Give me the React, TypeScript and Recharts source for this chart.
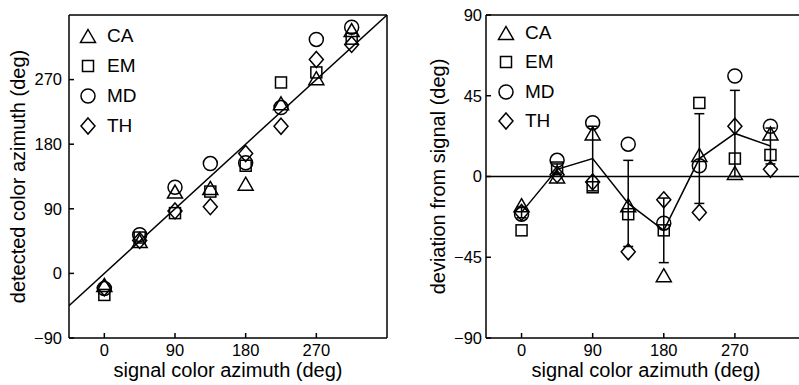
import React from 'react';
import { ComposedChart, Scatter, Line, XAxis, YAxis, ErrorBar, Legend } from 'recharts';

// signal azimuths (deg)
const SIGNAL = [0, 45, 90, 135, 180, 225, 270, 315];

// detected color azimuth per observer (left panel)
const DET_CA = [-16, 45, 114, 119, 125, 237, 272, 339];
const DET_EM = [-30, 50, 84, 114, 150, 266, 280, 327];
const DET_MD = [-21, 54, 120, 153, 154, 231, 326, 343];
const DET_TH = [-20, 46, 87, 93, 167, 205, 298, 319];

// deviation from signal per observer (right panel)
const DEV_CA = [-16, 0, 24, -16, -55, 12, 2, 24];
const DEV_EM = [-30, 5, -6, -21, -30, 41, 10, 12];
const DEV_MD = [-21, 9, 30, 18, -26, 6, 56, 28];
const DEV_TH = [-20, 1, -3, -42, -13, -20, 28, 4];
const DEV_MEAN = [-20, 4, 10, -15, -30, 10, 24, 17];
const DEV_SD = [3, 3, 18, 24, 18, 25, 24, 10];

const X_TICKS = [0, 90, 180, 270];
const LEFT_Y_TICKS = [-90, 0, 90, 180, 270];
const RIGHT_Y_TICKS = [-90, -45, 0, 45, 90];
const X_DOMAIN = [-45, 360];
const LEFT_Y_DOMAIN = [-90, 360];
const RIGHT_Y_DOMAIN = [-90, 90];
const DIAGONAL = [-45, 360];
const ZERO_SPAN = [-45, 360];

const SUBJECTS = ['CA', 'EM', 'MD', 'TH'];
const KINDS = ['triangle', 'square', 'circle', 'diamond'];

const toPoints = (ys: number[]) => SIGNAL.map((x, i) => ({ x, y: ys[i] }));

const leftSets = [DET_CA, DET_EM, DET_MD, DET_TH].map(toPoints);
const rightSets = [DEV_CA, DEV_EM, DEV_MD, DEV_TH].map(toPoints);
const meanData = SIGNAL.map((x, i) => ({ x, y: DEV_MEAN[i], sd: DEV_SD[i] }));
const diagData = DIAGONAL.map((v) => ({ x: v, y: v }));
const zeroData = ZERO_SPAN.map((v) => ({ x: v, y: 0 }));

const BLACK = '#000';
const tickStyle = { fill: BLACK, fontSize: 16.5 };
const minus = (v: number) => String(v).replace('-', '\u2212');

const Marker = ({ kind, cx, cy }: { kind: string; cx: number; cy: number }) => {
  const s = { fill: 'none', stroke: BLACK, strokeWidth: 1.5 };
  if (cx == null || cy == null) return null;
  switch (kind) {
    case 'triangle':
      return <polygon points={`${cx},${cy - 6.5} ${cx + 7.5},${cy + 6.5} ${cx - 7.5},${cy + 6.5}`} {...s} />;
    case 'square':
      return <rect x={cx - 5.5} y={cy - 5.5} width={11} height={11} {...s} />;
    case 'circle':
      return <circle cx={cx} cy={cy} r={7} {...s} />;
    default:
      return <polygon points={`${cx},${cy - 8} ${cx + 7},${cy} ${cx},${cy + 8} ${cx - 7},${cy}`} {...s} />;
  }
};

const LegendBox = ({ rowH }: { rowH: number }) => (
  <div style={{ fontSize: 19, color: BLACK }}>
    {SUBJECTS.map((name, i) => (
      <div key={name} style={{ display: 'flex', alignItems: 'center', height: rowH }}>
        <svg width={20} height={20}>
          <Marker kind={KINDS[i]} cx={10} cy={10} />
        </svg>
        <span style={{ marginLeft: 9, lineHeight: '20px' }}>{name}</span>
      </div>
    ))}
  </div>
);

const axisProps = { stroke: BLACK, strokeWidth: 1.5, allowDataOverflow: true, type: 'number' as const };

const LeftPanel = () => (
  <ComposedChart width={400} height={385} margin={{ top: 14, right: 12, bottom: 0, left: 0 }}>
    <XAxis
      {...axisProps}
      xAxisId="b"
      dataKey="x"
      domain={X_DOMAIN}
      ticks={X_TICKS}
      height={47}
      tickSize={-5}
      tickMargin={11}
      tick={tickStyle}
      label={{ value: 'signal color azimuth (deg)', position: 'insideBottom', offset: 8, fill: BLACK, fontSize: 20 }}
    />
    <XAxis {...axisProps} xAxisId="t" orientation="top" dataKey="x" domain={X_DOMAIN} ticks={X_TICKS} height={1} tickSize={-5} tick={false} />
    <YAxis
      {...axisProps}
      yAxisId="l"
      dataKey="y"
      domain={LEFT_Y_DOMAIN}
      ticks={LEFT_Y_TICKS}
      width={69}
      tickSize={-5}
      tickMargin={12}
      tick={tickStyle}
      tickFormatter={minus}
      label={{ value: 'detected color azimuth (deg)', angle: -90, position: 'insideLeft', offset: 18, fill: BLACK, fontSize: 20, style: { textAnchor: 'middle' } }}
    />
    <YAxis {...axisProps} yAxisId="r" orientation="right" dataKey="y" domain={LEFT_Y_DOMAIN} ticks={LEFT_Y_TICKS} width={1} tickSize={-5} tick={false} />
    <Line xAxisId="t" yAxisId="r" data={diagData} dataKey="y" dot={false} stroke={BLACK} strokeWidth={1.5} isAnimationActive={false} legendType="none" />
    {leftSets.map((d, i) => (
      <Scatter
        key={SUBJECTS[i]}
        name={SUBJECTS[i]}
        xAxisId="b"
        yAxisId="l"
        data={d}
        isAnimationActive={false}
        shape={(p: any) => <Marker kind={KINDS[i]} cx={p.cx} cy={p.cy} />}
      />
    ))}
    <Legend layout="vertical" align="center" verticalAlign="middle" wrapperStyle={{ left: 78, top: 21, width: 'auto' }} content={() => <LegendBox rowH={30} />} />
  </ComposedChart>
);

const RightPanel = () => (
  <ComposedChart width={420} height={385} margin={{ top: 14, right: 13, bottom: 0, left: 0 }}>
    <XAxis
      {...axisProps}
      xAxisId="b"
      dataKey="x"
      domain={X_DOMAIN}
      ticks={X_TICKS}
      height={47}
      tickSize={-5}
      tickMargin={11}
      tick={tickStyle}
      label={{ value: 'signal color azimuth (deg)', position: 'insideBottom', offset: 8, fill: BLACK, fontSize: 20 }}
    />
    <XAxis {...axisProps} xAxisId="t" orientation="top" dataKey="x" domain={X_DOMAIN} ticks={X_TICKS} height={1} tickSize={-5} tick={false} />
    <YAxis
      {...axisProps}
      yAxisId="l"
      dataKey="y"
      domain={RIGHT_Y_DOMAIN}
      ticks={RIGHT_Y_TICKS}
      width={86}
      tickSize={-5}
      tickMargin={9}
      tick={tickStyle}
      tickFormatter={minus}
      label={{ value: 'deviation from signal (deg)', angle: -90, position: 'insideLeft', offset: 38, fill: BLACK, fontSize: 20, style: { textAnchor: 'middle' } }}
    />
    <YAxis {...axisProps} yAxisId="r" orientation="right" dataKey="y" domain={RIGHT_Y_DOMAIN} ticks={RIGHT_Y_TICKS} width={1} tickSize={-5} tick={false} />
    <Line xAxisId="t" yAxisId="r" data={zeroData} dataKey="y" dot={false} stroke={BLACK} strokeWidth={1.5} isAnimationActive={false} legendType="none" />
    <Line xAxisId="b" yAxisId="l" data={meanData} dataKey="y" dot={false} stroke={BLACK} strokeWidth={1.5} isAnimationActive={false} legendType="none">
      <ErrorBar dataKey="sd" direction="y" width={5} stroke={BLACK} strokeWidth={1.5} isAnimationActive={false} />
    </Line>
    {rightSets.map((d, i) => (
      <Scatter
        key={SUBJECTS[i]}
        name={SUBJECTS[i]}
        xAxisId="b"
        yAxisId="l"
        data={d}
        isAnimationActive={false}
        shape={(p: any) => <Marker kind={KINDS[i]} cx={p.cx} cy={p.cy} />}
      />
    ))}
    <Legend layout="vertical" align="center" verticalAlign="middle" wrapperStyle={{ left: 96, top: 18, width: 'auto' }} content={() => <LegendBox rowH={29.5} />} />
  </ComposedChart>
);

export default function App() {
  return (
    <div
      style={{
        position: 'fixed',
        left: 0,
        top: 0,
        width: 799,
        height: 385,
        overflow: 'hidden',
        background: '#fff',
        fontFamily: 'Arial, "Liberation Sans", Helvetica, sans-serif',
      }}
    >
      <div style={{ position: 'absolute', left: 0, top: 0 }}>
        <LeftPanel />
      </div>
      <div style={{ position: 'absolute', left: 400, top: 0 }}>
        <RightPanel />
      </div>
    </div>
  );
}
